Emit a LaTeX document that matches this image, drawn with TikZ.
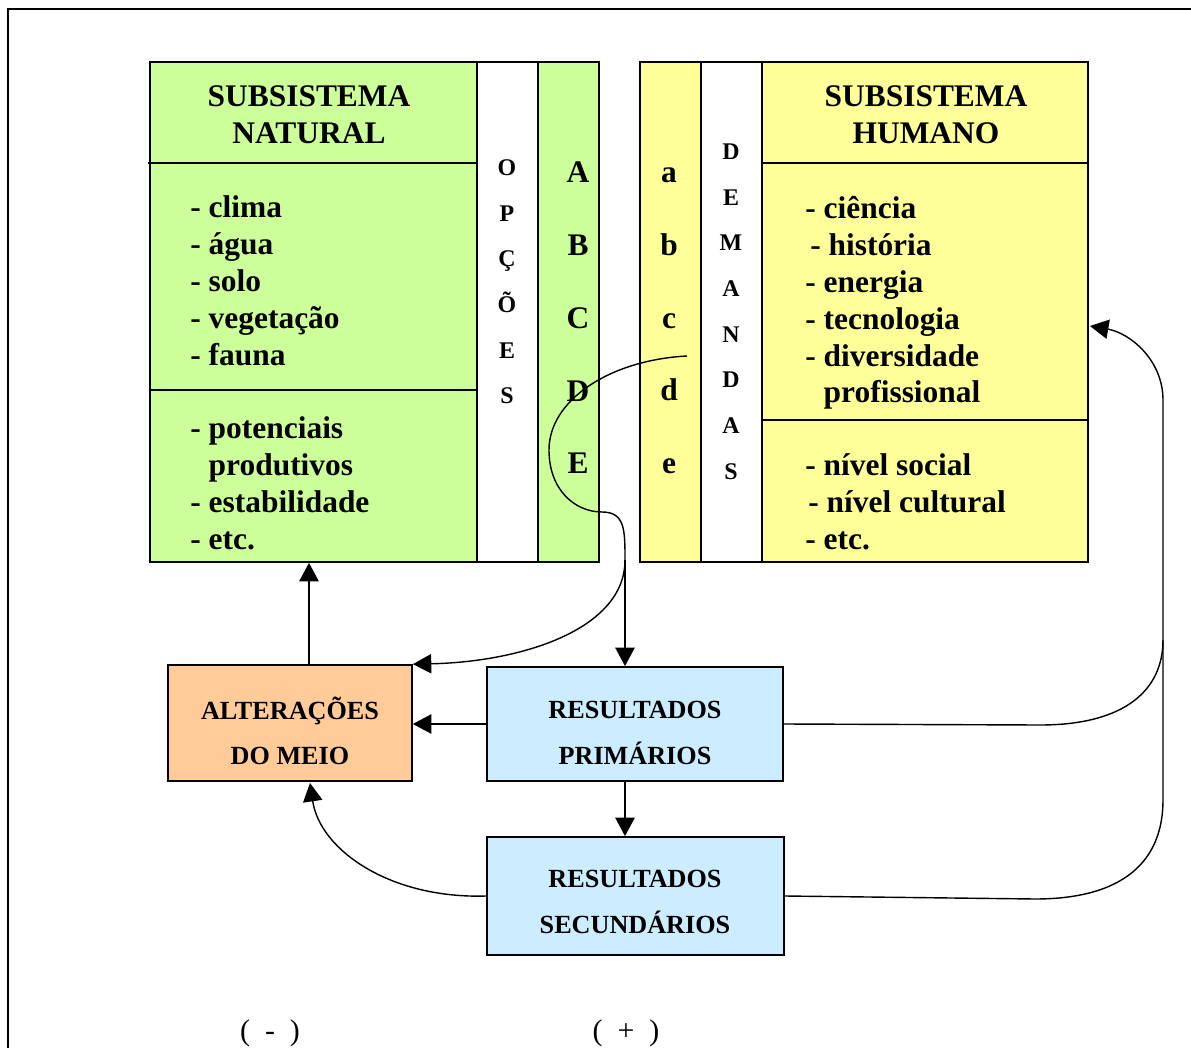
\documentclass[tikz,border=0pt]{standalone}
\usepackage{fontspec}
\setmainfont{Liberation Serif}
\usetikzlibrary{arrows.meta, calc}

\definecolor{natgreen}{HTML}{CCFF99}
\definecolor{humyellow}{HTML}{FFFF99}
\definecolor{altorange}{HTML}{FFCC99}
\definecolor{resblue}{HTML}{CCECFF}

\tikzset{
  cell/.style={draw, rectangle, line width=1pt, inner sep=0pt},
  bigtext/.style={font=\fontsize{17.9}{21}\selectfont\bfseries, inner sep=0pt},
  listtext/.style={bigtext, align=left, anchor=west},
  lettercol/.style={font=\fontsize{17.9}{41.4}\selectfont\bfseries, align=center, inner sep=0pt},
  smallcol/.style={font=\fontsize{13.6}{26}\selectfont\bfseries, align=center, inner sep=0pt},
  boxtext/.style={font=\fontsize{14.9}{26}\selectfont\bfseries, align=center, inner sep=0pt},
  arr/.style={-{Triangle[length=10.5pt,width=11pt]}, line width=0.8pt},
  link/.style={line width=0.8pt}
}

\begin{document}
\begin{tikzpicture}[x=0.02cm, y=-0.02cm]
\useasboundingbox (0,0) rectangle (1191,1048);
\draw[line width=1.2pt] (8,1048) -- (8,9) -- (1191,9);

% subsistema natural
\node (nat) at (374.5,312) [cell, fill=natgreen, minimum width=8.98cm, minimum height=10cm] {};
\node (opc) at (507.5,312) [cell, fill=white, minimum width=1.22cm, minimum height=10cm] {};
\draw[line width=1pt] (148,163) -- (477,163);
\draw[line width=1pt] (150,390) -- (477,390);
\node (nattitle) at (309,115) [bigtext, align=center] {SUBSISTEMA\\NATURAL};
\node (natlist) at (190,281) [listtext] {- clima\\- água\\- solo\\- vegetação\\- fauna};
\node (natpot) at (190,483) [listtext] {- potenciais\\\phantom{- }produtivos\\- estabilidade\\- etc.};
\node (opctext) at (507,282) [smallcol] {O\\P\\Ç\\Õ\\E\\S};
\node (upper) at (578,318) [lettercol] {A\\B\\C\\D\\E};

% subsistema humano
\node (hum) at (864,312) [cell, fill=humyellow, minimum width=8.96cm, minimum height=10cm] {};
\node (dem) at (731.5,312) [cell, fill=white, minimum width=1.22cm, minimum height=10cm] {};
\draw[line width=1pt] (762,163) -- (1088,163);
\draw[line width=1pt] (762,420) -- (1088,420);
\node (humtitle) at (926,115) [bigtext, align=center] {SUBSISTEMA\\HUMANO};
\node (humlist) at (805,303) [listtext] {- ciência\\\hspace*{2.8pt}- história\\- energia\\- tecnologia\\- diversidade\\\phantom{- }profissional};
\node (humsoc) at (805,501.5) [listtext] {- nível social\\\hspace*{1.7pt}- nível cultural\\- etc.};
\node (demtext) at (731,311.5) [smallcol] {D\\E\\M\\A\\N\\D\\A\\S};
\node (lower) at (669,321) [lettercol] {a\\b\\c\\d\\e};

% resultados
\node (alt) at (290,723) [cell, fill=altorange, minimum width=4.88cm, minimum height=2.32cm] {};
\node (alttext) at (290,731) [boxtext] {ALTERAÇÕES\\DO MEIO};
\node (prim) at (635,724) [cell, fill=resblue, minimum width=5.92cm, minimum height=2.28cm] {};
\node (primtext) at (635,733) [boxtext] {RESULTADOS\\PRIMÁRIOS};
\node (sec) at (635.5,896) [cell, fill=resblue, minimum width=5.94cm, minimum height=2.36cm] {};
\node (sectext) at (635,902) [boxtext] {RESULTADOS\\SECUNDÁRIOS};

\node (minus) at (270,1033) [font=\fontsize{17}{20}\selectfont, inner sep=0pt] {(~~-~~)};
\node (plus) at (626,1033) [font=\fontsize{17}{20}\selectfont, inner sep=0pt] {(~~+~~)};

% ligacoes
\coordinate (dstart) at (687,356);
\coordinate (split) at (625,560);
\coordinate (altup) at (309,665);
\coordinate (altin) at (310,783);
\coordinate (humin) at (1090,326);
\coordinate (join) at (1163,640);

\draw[link] (dstart) .. controls (610,360) and (549,400) .. (549,450)
  .. controls (549,490) and (575,512) .. (602,512)
  .. controls (625,512) and (625,530) .. (split);
\draw[arr] (split) -- (split |- prim.north);
\draw[arr] (split) .. controls (625,630) and (520,662) .. (alt.north east);
\draw[arr] (altup) -- (altup |- nat.south);
\draw[arr] (prim.west) -- (prim.west -| alt.east);
\draw[arr] (split |- prim.south) -- (split |- sec.north);
\draw[arr] (sec.west) .. controls (390,899) and (320,850) .. (altin);
\draw[arr] (prim.east) -- (1040,725) .. controls (1125,725) and (1163,690) .. (join)
  -- (1163,400) .. controls (1163,360) and (1130,333) .. (humin);
\draw[link] (sec.east) -- (1035,899) .. controls (1125,899) and (1163,860) .. (1163,800) -- (join);
\end{tikzpicture}
\end{document}
